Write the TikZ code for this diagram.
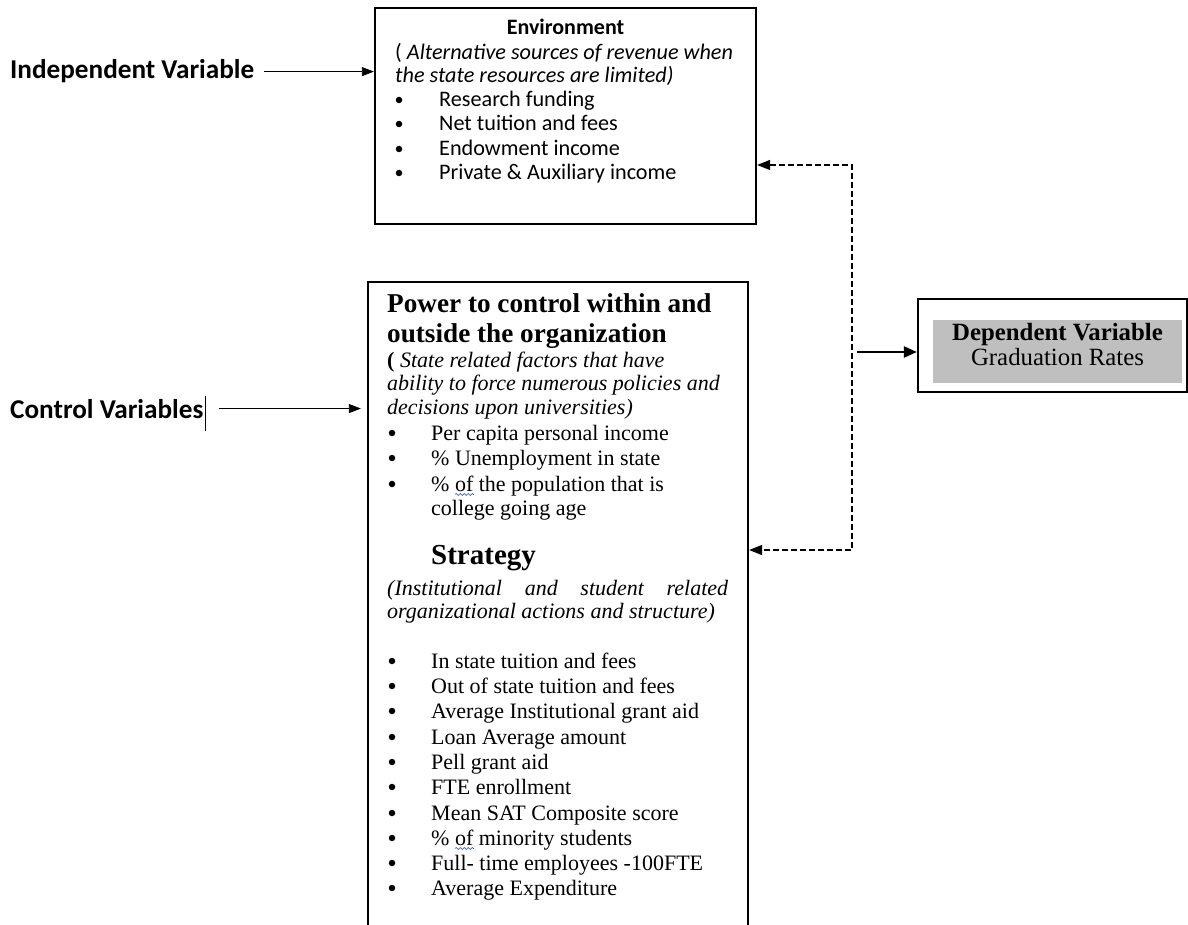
\documentclass[tikz,border=0pt]{standalone}
\usepackage{fontspec}
\setmainfont{Liberation Serif}
\newfontfamily\calibri{Carlito}
\usetikzlibrary{arrows.meta,decorations.pathmorphing}

\tikzset{
	box/.style={draw,line width=2.2pt,inner sep=0pt},
	dot/.style={circle,fill,inner sep=0pt,minimum size=6.5pt},
	lbl/.style={anchor=base west,inner sep=0pt,font=\calibri\bfseries\fontsize{27.2}{30}\selectfont},
	envtxt/.style={anchor=base west,inner sep=0pt,font=\calibri\fontsize{22.2}{24}\selectfont},
	powtxt/.style={anchor=base west,inner sep=0pt,font=\fontsize{22}{25}\selectfont},
	pointer/.style={-{Triangle[length=12pt,width=9pt]},line width=0.7pt},
	feedback/.style={{Triangle[length=13pt,width=10pt]}-{Triangle[length=13pt,width=10pt]},line width=1.4pt,dash pattern=on 6pt off 3pt},
	spell/.style={blue!70!cyan,line width=0.6pt,decorate,decoration={snake,segment length=4pt,amplitude=1pt}}
}

\begin{document}
\begin{tikzpicture}[x=1pt,y=-1pt]
	\useasboundingbox (0,0) rectangle (1188,925);
	\clip (0,0) rectangle (1188,925);
	% boxes
	\node[box,minimum width=381pt,minimum height=216pt] (env) at (565.5,116) {};
	\node[box,minimum width=380pt,minimum height=680pt] (pow) at (558,622) {};
	\node[box,minimum width=269pt,minimum height=93pt] (dep) at (1052.5,345.5) {};
	\node[fill=black!25,minimum width=249pt,minimum height=63pt,inner sep=0pt] (depin) at (1057.5,351.5) {};
	% environment
	\node[envtxt,anchor=base,font=\calibri\bfseries\fontsize{22}{24}\selectfont] (envhead) at (565.5,35) {Environment};
	\node[envtxt] (envsub1) at (395,60) {( \textit{Alternative sources of revenue when}};
	\node[envtxt] (envsub2) at (395,83) {\textit{the state resources are limited)}};
	\foreach \y / \t in {107/Research funding,131/Net tuition and fees,156/Endowment  income,180/Private \& Auxiliary income} {
		\node[dot] (envdot\y) at (399,\y-7) {};
		\node[envtxt] (envitem\y) at (439,\y) {\t};
	}
	% power to control
	\node[powtxt,font=\bfseries\fontsize{27.2}{30}\selectfont] (powhead1) at (387,312) {Power to control within and};
	\node[powtxt,font=\bfseries\fontsize{27.2}{30}\selectfont] (powhead2) at (387,342) {outside the organization};
	\node[powtxt] (powsub1) at (387,367) {\textbf{(} \textit{State related factors that have}};
	\node[powtxt] (powsub2) at (387,390) {\textit{ability to force numerous policies and}};
	\node[powtxt] (powsub3) at (387,414) {\textit{decisions upon universities)}};
	\foreach \y / \t in {440/Per capita personal income,465/\% Unemployment in state,491/\% of the population that is} {
		\node[dot] (powdot\y) at (392,\y-7) {};
		\node[powtxt] (powitem\y) at (431,\y) {\t};
	}
	\node[powtxt] (powitem515) at (431,515) {college going age};
	% strategy
	\node[powtxt,font=\bfseries\fontsize{29}{32}\selectfont] (strat) at (431,564) {Strategy};
	\node[powtxt] (stratsub1) at (387,595) {\hbox to 341pt{\itshape (Institutional\hfill and\hfill student\hfill related}};
	\node[powtxt] (stratsub2) at (387,618) {\textit{organizational actions and structure)}};
	\foreach \y / \t in {668/In state tuition and fees,693/Out of state tuition and fees,718/Average Institutional grant aid,744/Loan Average amount,769/Pell grant aid,794/FTE enrollment,820/Mean SAT Composite score,845/\% of minority students,870/Full- time employees -100FTE,895/Average Expenditure} {
		\node[dot] (stratdot\y) at (392,\y-7) {};
		\node[powtxt] (stratitem\y) at (431,\y) {\t};
	}
	\draw[spell] (455,494.5) -- (474,494.5);
	\draw[spell] (455,848.5) -- (474,848.5);
	% dependent variable
	\node[powtxt,anchor=base,font=\bfseries\fontsize{24.8}{26}\selectfont] (deptitle) at (1057.5,340) {Dependent Variable};
	\node[powtxt,anchor=base,font=\fontsize{24.8}{26}\selectfont] (depname) at (1057.5,365) {Graduation Rates};
	% labels
	\node[lbl] (indep) at (10,79) {Independent Variable};
	\node[lbl] (ctrl) at (10,418) {Control Variables};
	\coordinate (cursor) at (205,431);
	\draw[line width=0.9pt] (cursor) -- ++(0,-35);
	\draw[pointer] ([xshift=10pt]indep.east) -- (indep.east -| env.west);
	\draw[pointer,shorten >=6pt] ([xshift=15pt]ctrl.east) -- (ctrl.east -| pow.west);
	% feedback loop
	\coordinate (fbtop) at (852,165);
	\coordinate (fbbot) at (852,550);
	\coordinate (fbmid) at (857,352);
	\draw[feedback] (fbtop -| env.east) -- (fbtop) -- (fbbot) -- (fbbot -| pow.east);
	\draw[-{Triangle[length=13pt,width=11pt]},line width=2.2pt] (fbmid) -- (fbmid -| dep.west);
\end{tikzpicture}
\end{document}
